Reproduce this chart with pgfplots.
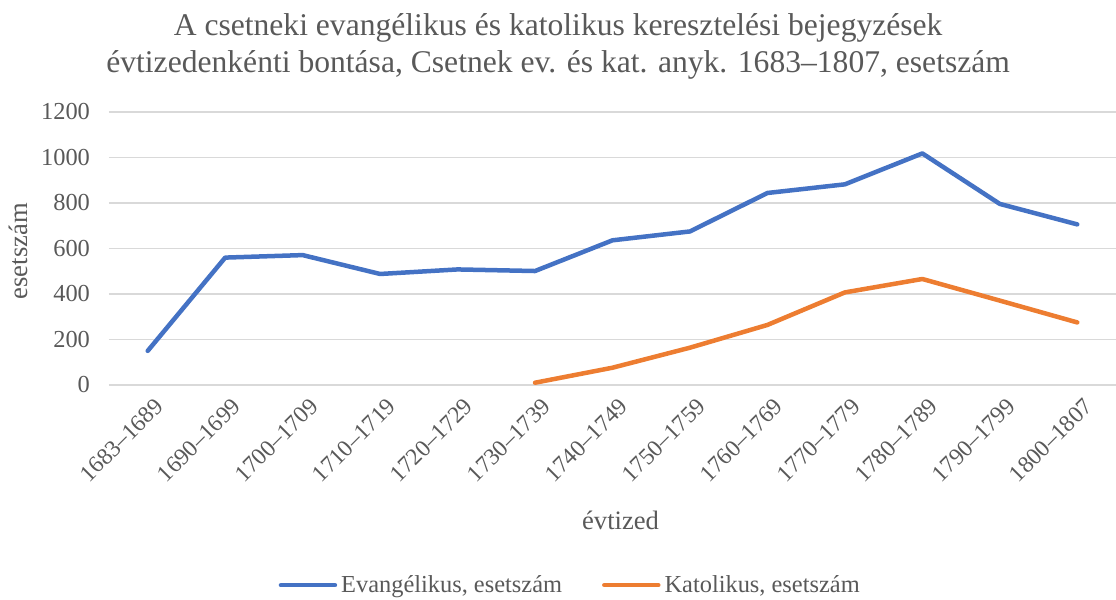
\documentclass[border=0pt]{standalone}
\usepackage{pgfplots}
\pgfplotsset{compat=1.18}
\usepackage{fontspec}
\setmainfont{Liberation Serif}
\definecolor{evblue}{HTML}{4472C4}
\definecolor{katorange}{HTML}{ED7D31}
\definecolor{txtgray}{HTML}{595959}
\definecolor{gridgray}{HTML}{D9D9D9}
\begin{document}
\begin{tikzpicture}[x=1pt,y=1pt]
\path[use as bounding box] (-54.5pt,-107.5pt) rectangle (503.5pt,192.5pt);
\begin{axis}[
  at={(0,0)}, anchor=south west,
  scale only axis,
  width=503.5pt, height=136.5pt,
  xmin=-0.5, xmax=12.5,
  ymin=0, ymax=1200,
  ytick={0,200,...,1200},
  xtick={0,...,12},
  xticklabels={1683--1689,1690--1699,1700--1709,1710--1719,1720--1729,1730--1739,1740--1749,1750--1759,1760--1769,1770--1779,1780--1789,1790--1799,1800--1807},
  xticklabel style={rotate=45, anchor=north east, font=\fontsize{11.8}{13}\selectfont, text=txtgray, inner sep=1pt, xshift=-1pt, yshift=-5pt},
  yticklabel style={font=\fontsize{12.2}{14}\selectfont, text=txtgray, xshift=-6pt},
  /pgf/number format/1000 sep={},
  /pgf/number format/assume math mode=true,
  axis line style={draw=none},
  major tick style={draw=none},
  ymajorgrids,
  grid style={gridgray, line width=0.75pt},
  clip=false,
  xlabel={évtized},
  xlabel style={font=\fontsize{13.3}{15}\selectfont, text=txtgray, at={(axis description cs:0.508,-0.495)}, anchor=center},
  ylabel={esetszám},
  ylabel style={font=\fontsize{13.3}{15}\selectfont, text=txtgray, at={(axis description cs:-0.09,0.49)}, anchor=center},
  title={A csetneki evangélikus és katolikus keresztelési bejegyzések\\évtizedenkénti bontása, Csetnek ev. és kat. anyk. 1683--1807, esetszám},
  title style={font=\fontsize{15.8}{18.5}\selectfont, text=txtgray, align=center, at={(axis description cs:0.446,1.198)}, anchor=center},
  legend columns=2,
  legend style={draw=none, fill=none, font=\fontsize{12.2}{14}\selectfont, text=txtgray, at={(axis description cs:0.459,-0.733)}, anchor=center, /tikz/every even column/.append style={column sep=18pt}},
  legend image code/.code={\draw[#1, line cap=round] (0pt,0pt) -- (27pt,0pt);},
]
\addplot[evblue, line width=2.25pt, line join=round, line cap=round] coordinates {
(0,150) (1,560) (2,571) (3,488) (4,508) (5,501) (6,636) (7,675) (8,844) (9,882) (10,1018) (11,796) (12,706)};
\addlegendentry{Evangélikus, esetszám}
\addplot[katorange, line width=2.25pt, line join=round, line cap=round] coordinates {
(5,10) (6,76) (7,164) (8,264) (9,407) (10,466) (11,371) (12,275)};
\addlegendentry{Katolikus, esetszám}
\end{axis}
\end{tikzpicture}
\end{document}
